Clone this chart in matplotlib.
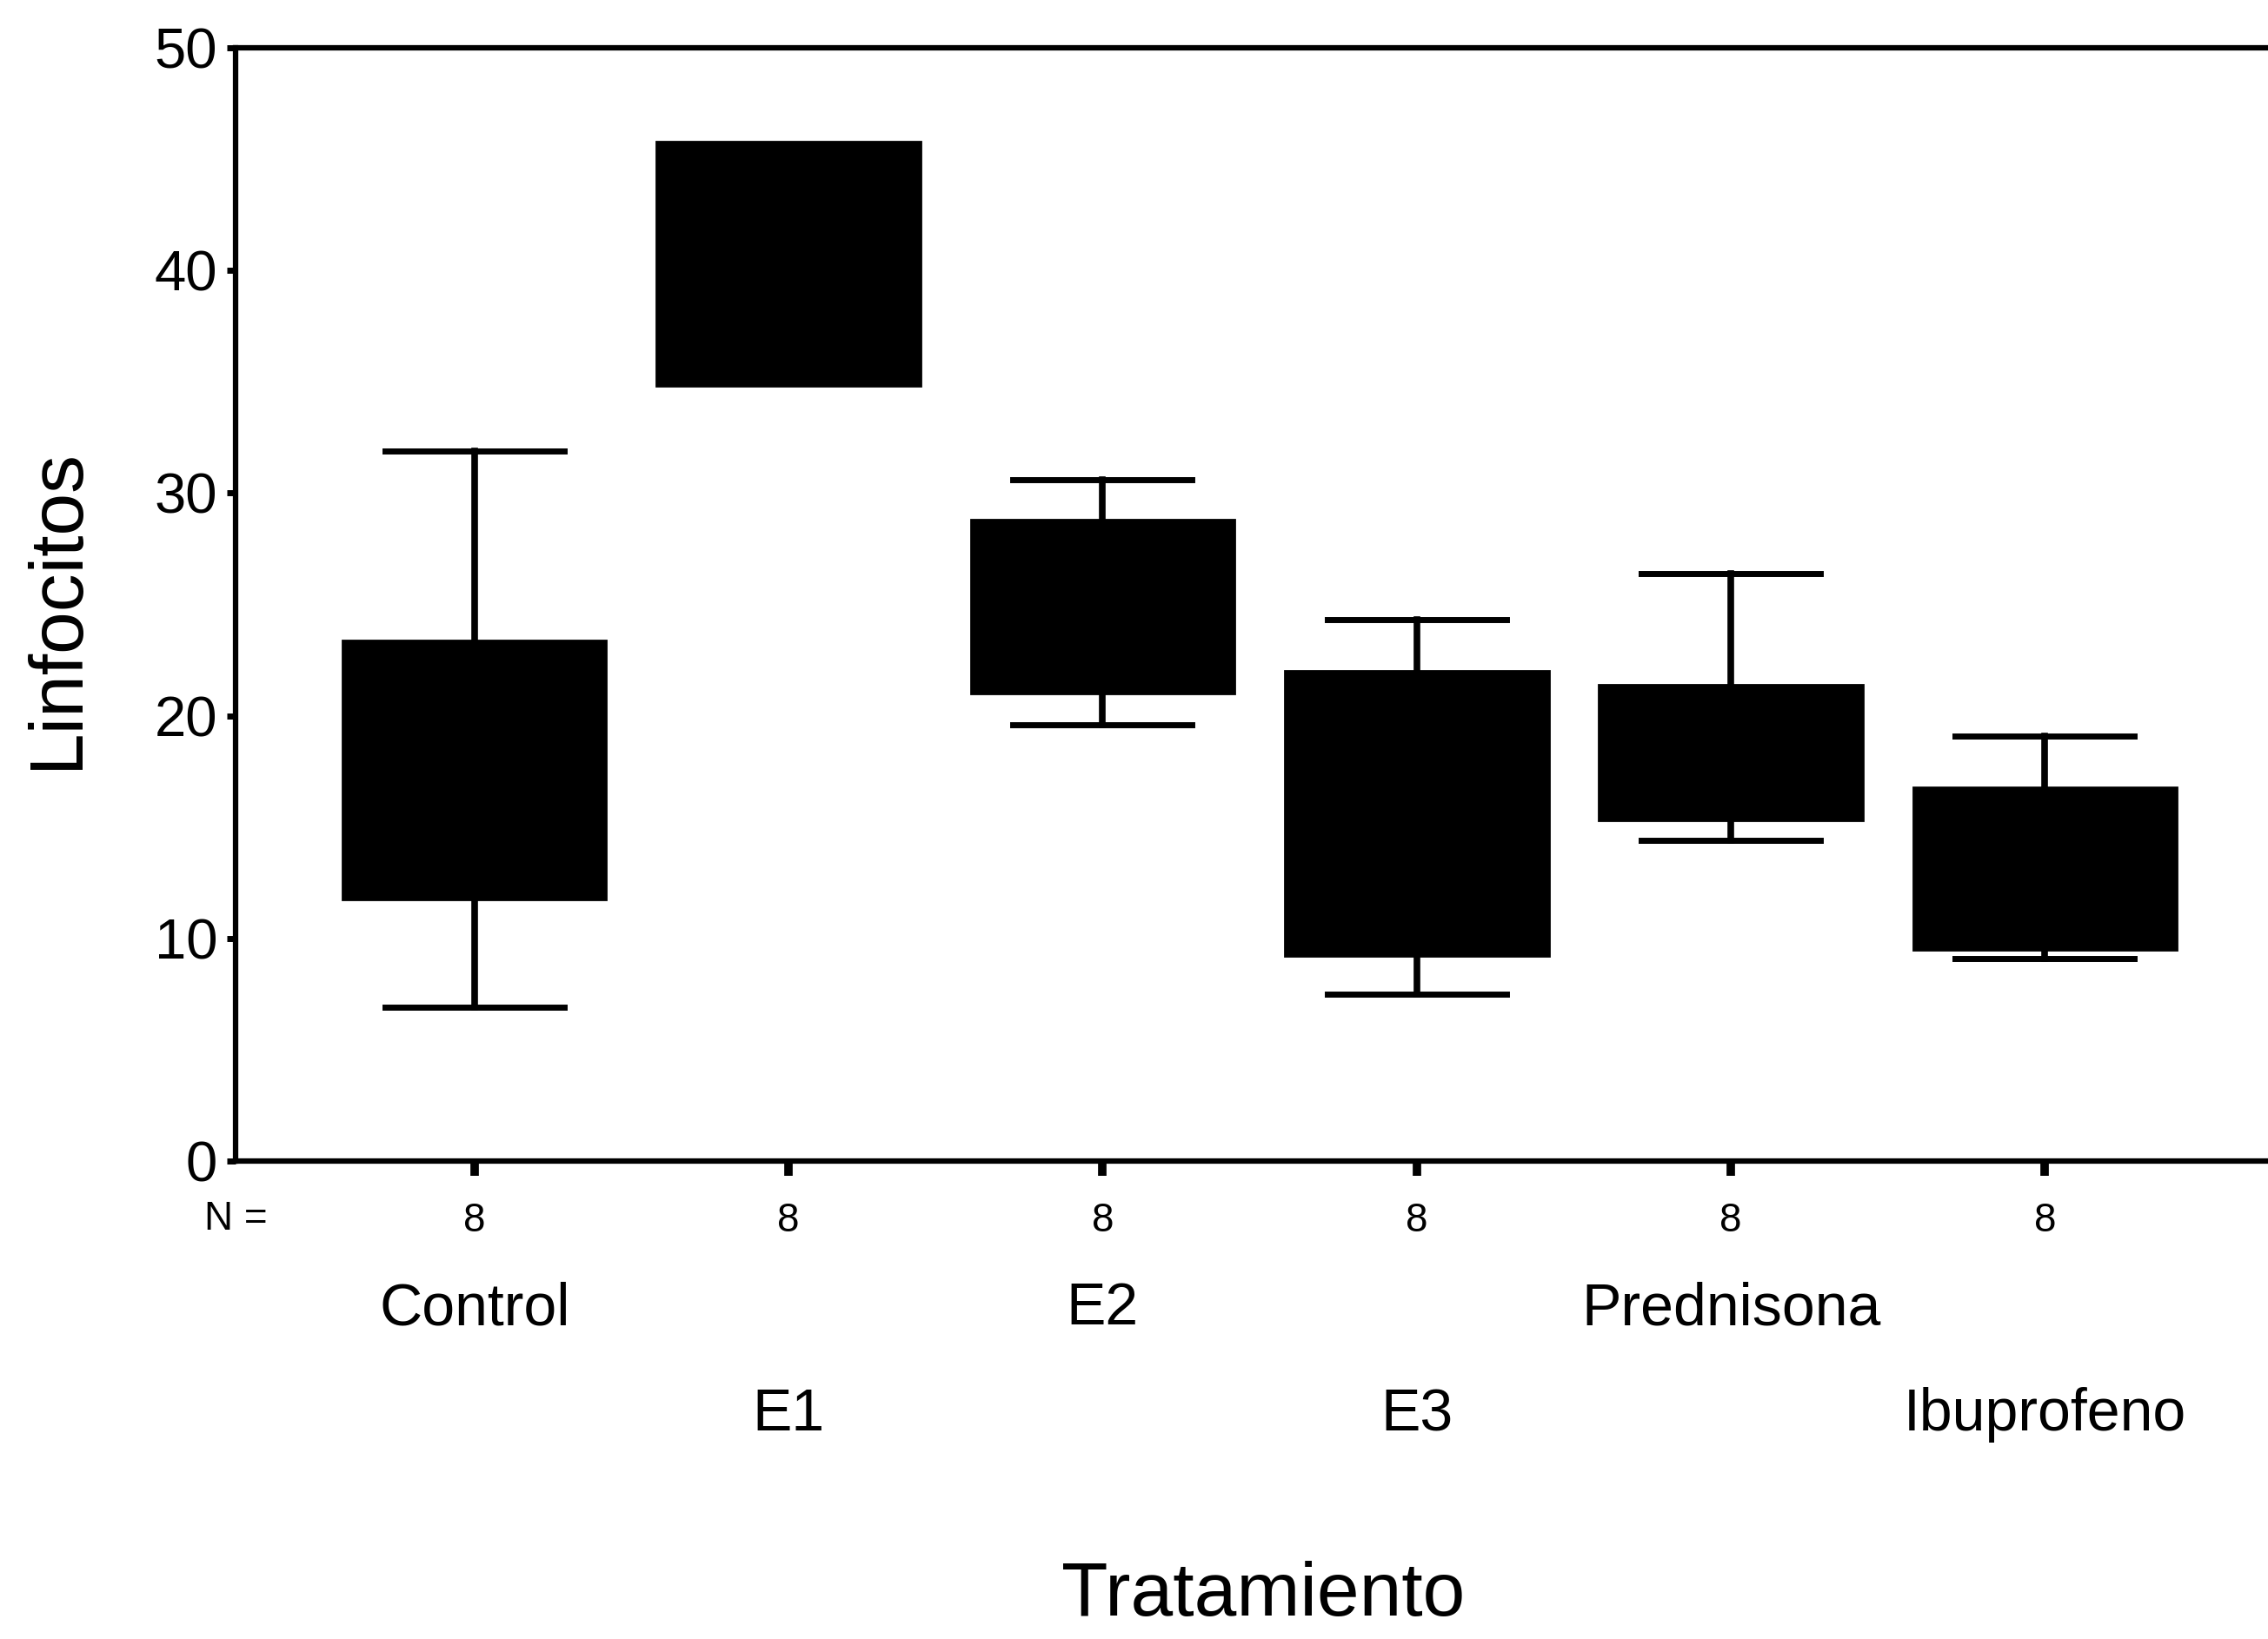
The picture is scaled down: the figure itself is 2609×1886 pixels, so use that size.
import matplotlib.pyplot as plt
from matplotlib.transforms import blended_transform_factory

plt.rcParams["font.family"] = ["Liberation Sans", "DejaVu Sans"]

# values
groups = ["Control", "E1", "E2", "E3", "Prednisona", "Ibuprofeno"]
counts = [8, 8, 8, 8, 8, 8]
whisker_low = [6.9, 34.8, 19.6, 7.5, 14.4, 9.1]
q1 = [11.75, 34.8, 21.0, 9.2, 15.3, 9.5]
medians = [17.0, 40.0, 25.0, 15.0, 18.5, 13.0]
q3 = [23.4, 45.8, 28.8, 22.0, 21.4, 16.8]
whisker_high = [31.9, 45.8, 30.6, 24.3, 26.4, 19.1]
label_row = [0, 1, 0, 1, 0, 1]  # labels alternate between two rows

stats = []
for name, lo, a, m, b, hi in zip(groups, whisker_low, q1, medians, q3, whisker_high):
    stats.append({"label": name, "whislo": lo, "q1": a, "med": m, "q3": b, "whishi": hi, "fliers": []})

fig = plt.figure(figsize=(26.09, 18.86), dpi=100)
ax = fig.add_axes([0.1039, 0.2916, 0.8961, 0.6792])

pos = list(range(len(groups)))
parts = ax.bxp(
    stats,
    positions=pos,
    widths=0.84,
    capwidths=0.57,
    patch_artist=True,
    showfliers=False,
    boxprops=dict(facecolor="black", edgecolor="black", linewidth=2),
    medianprops=dict(color="black", linewidth=0),
    whiskerprops=dict(color="black", linewidth=5.5),
    capprops=dict(color="black", linewidth=5),
)
# E1 has no whiskers outside its box, so no caps either
for i, (lo, a, b, hi) in enumerate(zip(whisker_low, q1, q3, whisker_high)):
    if lo == a:
        parts["caps"][2 * i].set_visible(False)
    if hi == b:
        parts["caps"][2 * i + 1].set_visible(False)

ax.set_xlim(-0.76, 5.71)
ax.set_ylim(0, 50)
ax.set_yticks([0, 10, 20, 30, 40, 50])
ax.tick_params(axis="y", direction="out", length=7, width=5, labelsize=47, pad=8)
ax.set_xticks(pos)
ax.set_xticklabels([])
ax.tick_params(axis="x", direction="out", length=12, width=7)

for side in ["left", "bottom", "top"]:
    ax.spines[side].set_linewidth(4.5)
ax.spines["right"].set_visible(False)

trans = blended_transform_factory(ax.transData, ax.transAxes)
ax.text(0.0, -0.052, "N =", transform=ax.transAxes, ha="center", va="center", fontsize=33)
for x, n, name, row in zip(pos, counts, groups, label_row):
    ax.text(x, -0.054, str(n), transform=trans, ha="center", va="center", fontsize=33, clip_on=False)
    y = -0.133 if row == 0 else -0.228
    ax.text(x, y, name, transform=trans, ha="center", va="center", fontsize=49, clip_on=False)

fig.text(0.0255, 0.629, "Linfocitos", rotation=90, ha="center", va="center", fontsize=63)
fig.text(0.557, 0.026, "Tratamiento", ha="center", va="center", fontsize=63)

fig.savefig("out.png", dpi=100)
